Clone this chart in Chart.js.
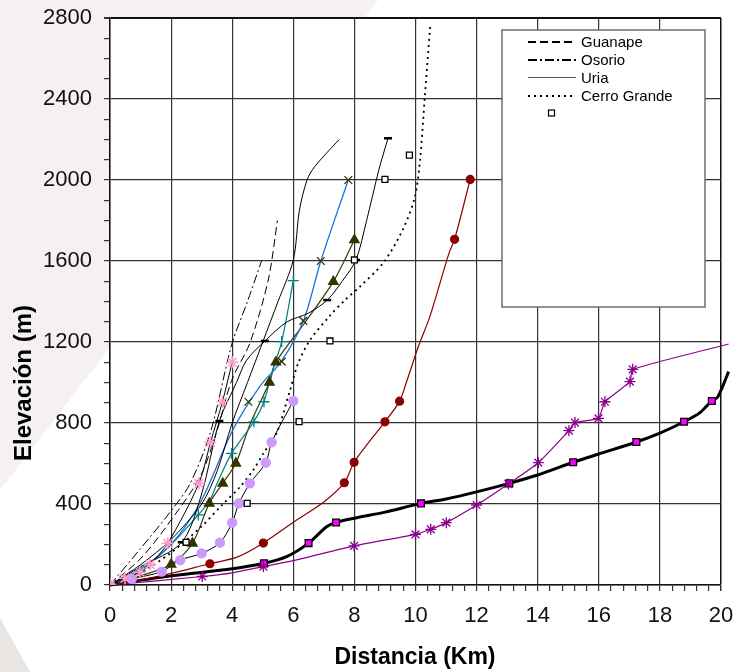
<!DOCTYPE html>
<html>
<head>
<meta charset="utf-8">
<script src="https://cdn.jsdelivr.net/npm/chart.js@4.4.1/dist/chart.umd.min.js"></script>
<style>
  html, body { margin: 0; padding: 0; background: #fff; }
  #wrap { width: 735px; height: 672px; }
</style>
</head>
<body>
<div id="wrap"><canvas id="perfilChart" width="735" height="672"></canvas></div>
<script>
// === Datos (distancia km, elevación m) ===
const legendLabels = ["Guanape", "Osorio", "Uria", "Cerro Grande", ""];

const guanapeX = [0, 1, 1.85, 2.95, 3.5, 3.98, 4.58, 5.18, 5.48];
const guanapeY = [0, 130, 290, 535, 760, 1010, 1195, 1506, 1800];

const osorioX = [0, 1, 2.02, 2.62, 3.3, 3.98, 4.5, 4.96];
const osorioY = [0, 180, 370, 500, 760, 1185, 1400, 1600];

const uriaX = [0, 1, 2, 3, 3.5, 4, 4.5, 5, 5.5, 6, 6.2, 6.45, 6.7, 7.5];
const uriaY = [0, 100, 225, 400, 560, 800, 1000, 1200, 1400, 1605, 1850, 2000, 2066, 2200];

const cerroX = [0, 1, 2, 3, 3.7, 4.26, 4.69, 5.02, 5.45, 5.89, 6.16, 6.55, 7.2, 7.69, 8.18, 8.97, 9.6, 9.98, 10.15, 10.3, 10.48];
const cerroY = [0, 60, 160, 290, 400, 485, 568, 650, 749, 960, 1095, 1210, 1330, 1407, 1473, 1596, 1760, 1917, 2100, 2400, 2757];

const abiertosX = [2.49, 4.49, 6.19, 7.2, 8.0, 9.0, 9.8];
const abiertosY = [211, 403, 807, 1205, 1605, 2003, 2123];

// línea negra con marcas "-"
const guionLineaX = [0, 1, 2.35, 3.0, 3.58, 4.14, 4.47, 5.07, 5.8, 6.49, 7.11, 7.6, 8.05, 8.4, 8.8, 9.1];
const guionLineaY = [0, 90, 211, 450, 810, 1000, 1110, 1205, 1300, 1342, 1407, 1500, 1605, 1800, 2050, 2206];
const guionX = [2.35, 3.58, 5.07, 7.11, 8.05, 9.1];
const guionY = [211, 810, 1205, 1407, 1605, 2206];

// asteriscos rosados
const rosaX = [0, 0.49, 0.98, 1.31, 1.89, 2.91, 3.29, 3.68, 4.0];
const rosaY = [0, 33, 63, 102, 206, 502, 705, 905, 1100];

// línea azul con marcas x
const azulX = [0, 1, 2, 3, 4, 4.9, 5.6, 6.33, 6.9, 7.8];
const azulY = [0, 80, 200, 420, 760, 980, 1103, 1304, 1600, 2000];
const cruzX = [4.53, 5.62, 6.33, 6.9, 7.8];
const cruzY = [905, 1103, 1304, 1600, 2000];

// línea verde azulado con marcas +
const tealX = [0, 0.5, 1, 2, 2.89, 3.27, 3.5, 3.98, 4.71, 5.04, 5.3, 5.62, 6.0];
const tealY = [0, 30, 70, 200, 346, 420, 500, 650, 806, 905, 1050, 1202, 1503];
const masX = [1, 2.89, 3.98, 4.71, 5.04, 5.62, 6.0];
const masY = [70, 346, 650, 806, 905, 1202, 1503];

// triángulos oliva
const olivaX = [0, 1, 2.0, 2.7, 3.25, 3.69, 4.12, 4.6, 5.22, 5.43, 6.4, 7.31, 8.0];
const olivaY = [0, 45, 102, 206, 403, 502, 601, 800, 1001, 1100, 1300, 1498, 1704];
const triX = [2.0, 2.7, 3.25, 3.69, 4.12, 5.22, 5.43, 7.31, 8.0];
const triY = [102, 206, 403, 502, 601, 1001, 1100, 1498, 1704];

// círculos lila
const lilaX = [0, 0.71, 1.69, 2.3, 3.0, 3.6, 4.0, 4.22, 4.58, 5.1, 5.29, 6.0];
const lilaY = [0, 30, 66, 123, 156, 209, 308, 403, 502, 604, 705, 909];

// círculos rojo oscuro
const rojoX = [0, 1.5, 3.27, 4.2, 5.02, 6, 7, 7.67, 7.99, 8.5, 9.0, 9.48, 9.7, 10.1, 10.47, 11.1, 11.28, 11.79];
const rojoY = [0, 40, 105, 140, 207, 310, 410, 505, 606, 710, 806, 908, 1000, 1180, 1325, 1640, 1707, 2003];
const rojoPuntosX = [3.27, 5.02, 7.67, 7.99, 9.0, 9.48, 11.28, 11.79];
const rojoPuntosY = [105, 207, 505, 606, 806, 908, 1707, 2003];

// línea negra gruesa con cuadros magenta
const gruesaX = [0, 2, 4, 5.04, 5.78, 6.5, 7.09, 7.4, 8, 9, 10.18, 11, 12, 13.07, 14, 15.16, 16, 17.23, 18, 18.79, 19.3, 19.7, 19.9, 20.25];
const gruesaY = [0, 45, 80, 107, 140, 207, 288, 309, 330, 360, 403, 425, 460, 502, 543, 606, 647, 706, 750, 806, 850, 909, 930, 1054];
const magentaX = [5.04, 6.5, 7.4, 10.18, 13.07, 15.16, 17.23, 18.79, 19.7];
const magentaY = [107, 207, 309, 403, 502, 606, 706, 806, 909];

// asteriscos púrpura
const purpuraX = [0, 3.02, 4, 5.02, 6, 7.99, 10.0, 10.5, 11.01, 12.0, 13.04, 14.02, 15.02, 15.22, 15.99, 16.2, 17.02, 17.11, 20.25];
const purpuraY = [0, 42, 60, 91, 120, 193, 250, 275, 308, 395, 499, 604, 762, 802, 823, 905, 1004, 1065, 1190];
const purpuraPuntosX = [3.02, 5.02, 7.99, 10.0, 10.5, 11.01, 12.0, 13.04, 14.02, 15.02, 15.22, 15.99, 16.2, 17.02, 17.11];
const purpuraPuntosY = [42, 91, 193, 250, 275, 308, 395, 499, 604, 762, 802, 823, 905, 1004, 1065];

const pts = (xs, ys) => xs.map((x, i) => ({ x, y: ys[i] }));

function linea(xs, ys, color, extra) {
  return Object.assign({
    data: pts(xs, ys), showLine: true, borderColor: color, borderWidth: 1,
    pointRadius: 0, tension: 0.3, fill: false, order: 2, clip: 12
  }, extra || {});
}
function marcas(xs, ys, style, r, bg, bc, extra) {
  return Object.assign({
    data: pts(xs, ys), showLine: false, pointStyle: style, pointRadius: r,
    backgroundColor: bg, borderColor: bc, pointBorderWidth: 1.2, order: 1
  }, extra || {});
}

const datasets = [
  linea(guanapeX, guanapeY, "#000", { borderDash: [8, 4], label: "Guanape" }),
  linea(osorioX, osorioY, "#000", { borderDash: [9, 3, 2, 3], label: "Osorio" }),
  linea(uriaX, uriaY, "#000", { label: "Uria" }),
  linea(cerroX, cerroY, "#000", { borderDash: [2, 4], borderWidth: 1.8, label: "Cerro Grande" }),
  linea(guionLineaX, guionLineaY, "#000"),
  linea(rosaX, rosaY, "#000"),
  linea(azulX, azulY, "#1a72d6", { borderWidth: 1.3 }),
  linea(tealX, tealY, "#008080", { borderWidth: 1.2 }),
  linea(olivaX, olivaY, "#3a3a00", { borderWidth: 1.2 }),
  linea(lilaX, lilaY, "#000"),
  linea(rojoX, rojoY, "#8b0000", { borderWidth: 1.2 }),
  linea(purpuraX, purpuraY, "#8b008b", { borderWidth: 1.2, tension: 0.15 }),
  linea(gruesaX, gruesaY, "#000", { borderWidth: 3 }),
  marcas(abiertosX, abiertosY, "rect", 4.2, "#fff", "#000", { pointBorderWidth: 1.3 }),
  marcas(guionX, guionY, "line", 4, "#000", "#000", { pointBorderWidth: 2.5 }),
  marcas(rosaX, rosaY, "star", 6, "#ff99cc", "#ff99cc", { pointBorderWidth: 1.6 }),
  marcas(cruzX, cruzY, "crossRot", 5.5, "#333300", "#333300", { pointBorderWidth: 1.3 }),
  marcas(masX, masY, "cross", 5.5, "#008080", "#008080", { pointBorderWidth: 1.3 }),
  marcas(triX, triY, "triangle", 5.5, "#333300", "#333300"),
  marcas(lilaX, lilaY, "circle", 4.6, "#cc99ff", "#cc99ff"),
  marcas(rojoPuntosX, rojoPuntosY, "circle", 4, "#8b0000", "#8b0000"),
  marcas(purpuraPuntosX, purpuraPuntosY, "star", 5.5, "#8b008b", "#8b008b", { pointBorderWidth: 1.3 }),
  marcas(magentaX, magentaY, "rect", 4.8, "#ff00ff", "#000", { pointBorderWidth: 1.3 })
];

// === Fondo decorativo, leyenda y títulos de ejes ===
const decoracion = {
  id: "decoracion",
  beforeDraw(chart) {
    const { ctx, chartArea: a } = chart;
    ctx.save();
    ctx.fillStyle = "#fff";
    ctx.fillRect(0, 0, chart.width, chart.height);
    ctx.fillStyle = "#f4f1f0";
    ctx.beginPath();
    ctx.moveTo(0, 0); ctx.lineTo(378, 0); ctx.lineTo(0, 490); ctx.closePath();
    ctx.fill();
    ctx.fillStyle = "#e9e5e3";
    ctx.beginPath();
    ctx.moveTo(0, 618); ctx.lineTo(30, 672); ctx.lineTo(0, 672); ctx.closePath();
    ctx.fill();
    ctx.fillStyle = "#fff";
    ctx.fillRect(a.left, a.top, a.right - a.left, a.bottom - a.top);
    ctx.restore();
  },
  afterDraw(chart) {
    const ctx = chart.ctx;
    ctx.save();
    // leyenda
    ctx.fillStyle = "#fff";
    ctx.fillRect(502, 30, 203, 277);
    ctx.strokeStyle = "#6e6e6e";
    ctx.lineWidth = 1.5;
    ctx.strokeRect(502, 30, 203, 277);
    ctx.font = "15px 'Liberation Sans', Arial, sans-serif";
    ctx.textBaseline = "middle";
    ctx.fillStyle = "#000";
    const filas = [42, 60, 77.5, 96];
    const estilos = [[8, 4], [9, 3, 2, 3], [], [2, 4]];
    filas.forEach((y, i) => {
      ctx.beginPath();
      ctx.setLineDash(estilos[i]);
      ctx.lineWidth = i === 2 ? 1.2 : 2;
      ctx.strokeStyle = i === 2 ? "#555" : "#000";
      ctx.moveTo(528, y); ctx.lineTo(576, y);
      ctx.stroke();
      ctx.fillText(legendLabels[i], 581, y + 1);
    });
    ctx.setLineDash([]);
    ctx.lineWidth = 1.2;
    ctx.strokeStyle = "#000";
    ctx.strokeRect(548.5, 110, 6, 6);
    // títulos de ejes
    ctx.textAlign = "center";
    ctx.font = "bold 23px 'Liberation Sans', Arial, sans-serif";
    ctx.fillText("Distancia (Km)", 415, 658);
    ctx.font = "bold 24px 'Liberation Sans', Arial, sans-serif";
    ctx.translate(24, 383);
    ctx.rotate(-Math.PI / 2);
    ctx.fillText("Elevación (m)", 0, 0);
    ctx.restore();
  }
};

const esMayor = (v, paso) => Math.abs(v / paso - Math.round(v / paso)) < 1e-6;
const sinRelleno = s => { s.paddingLeft = 0; s.paddingRight = 0; s.paddingTop = 0; s.paddingBottom = 0; };

new Chart(document.getElementById("perfilChart"), {
  type: "scatter",
  data: { datasets },
  options: {
    responsive: false,
    animation: false,
    layout: { padding: { left: 0, top: 18, right: 14, bottom: 0 } },
    plugins: { legend: { display: false }, tooltip: { enabled: false } },
    scales: {
      x: {
        type: "linear", min: 0, max: 20,
        afterFit: s => { s.height = 87; sinRelleno(s); },
        ticks: {
          stepSize: 0.4, autoSkip: false, maxRotation: 0, padding: 12,
          color: "#111", font: { family: "'Liberation Sans', Arial, sans-serif", size: 22 },
          callback: v => esMayor(v, 2) ? String(Math.round(v)) : ""
        },
        grid: {
          tickLength: 6,
          color: c => esMayor(c.tick.value, 2) ? (c.tick.value === 20 ? "#111" : "#333") : "rgba(0,0,0,0)",
          lineWidth: c => c.tick.value === 20 ? 1.5 : 1.2,
          tickColor: "#333"
        },
        border: { color: "#111", width: 1.5 }
      },
      y: {
        type: "linear", min: 0, max: 2800,
        afterFit: s => { s.width = 110; sinRelleno(s); },
        ticks: {
          stepSize: 100, autoSkip: false, padding: 12,
          color: "#111", font: { family: "'Liberation Sans', Arial, sans-serif", size: 22 },
          callback: v => esMayor(v, 400) ? String(v) : ""
        },
        grid: {
          tickLength: 6,
          color: c => esMayor(c.tick.value, 400) ? (c.tick.value === 2800 ? "#111" : "#333") : "rgba(0,0,0,0)",
          lineWidth: c => c.tick.value === 2800 ? 2 : 1.2,
          tickColor: "#333"
        },
        border: { color: "#111", width: 1.5 }
      }
    }
  },
  plugins: [decoracion]
});
</script>
</body>
</html>
